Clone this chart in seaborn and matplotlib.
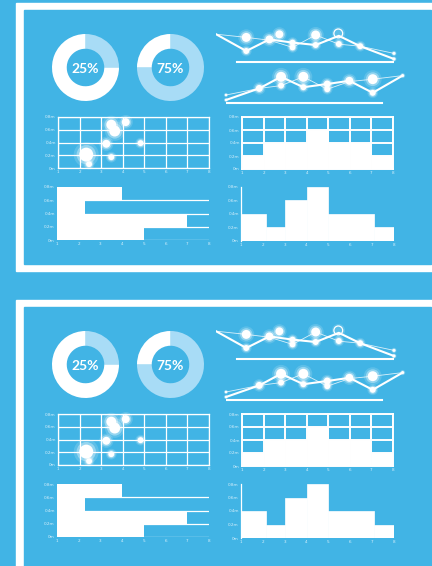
import numpy as np
import pandas as pd
import matplotlib
matplotlib.use("Agg")
import matplotlib.pyplot as plt
from matplotlib.patches import Rectangle
import seaborn as sns

# Datos
donut_pcts = [25, 75]

line_x = [0, 17, 30, 43, 56, 69, 81, 100]
top_main_y = [77, 35, 64, 56, 50, 73, 47, 15]
top_thin_y = [77, 69, 62, 44, 75, 52, 47, 29]
top_glow_x = [17, 56, 43, 69, 100, 17, 30, 43, 56, 81, 100, 35.6]
top_glow_y = [69, 75, 44, 52.5, 29, 35, 64, 56, 50, 47, 15, 76.7]
top_glow_r = [4.5, 4.5, 3, 3, 1.5, 3, 4, 3, 3, 3, 1.5, 4]
top_ring = ([68.7], [79])
top_base = ([12, 100], [7, 7])

bot_x = [0, 18.8, 31.1, 43.7, 57.2, 69.7, 82.9, 99.8]
bot_main_y = [20, 49, 78, 52, 60, 68, 38, 81]
bot_thin_y = [32.5, 49, 56, 78, 47, 66, 72, 81]
bot_glow_x = [18.8, 31.1, 43.7, 57.2, 69.7, 82.9, 0, 31.1, 43.7, 57.2, 82.9, 0, 99.8]
bot_glow_y = [49, 78, 52, 60, 68, 38, 20, 56, 78, 47, 72, 32.5, 81]
bot_glow_r = [3.5, 5, 3, 3.5, 4, 3, 1.2, 3, 5, 3, 5, 1.2, 1.5]
bot_base = ([0, 88], [12, 12])

bub_x = [2.31, 2.44, 3.24, 3.47, 3.47, 3.63, 4.14, 4.83]
bub_y = [0.21, 0.06, 0.38, 0.17, 0.68, 0.58, 0.72, 0.39]
bub_r = [7, 3, 4, 3, 5, 5.5, 4, 3]

grid_edges = [1, 2, 3, 4, 5, 6, 7, 8]
grid_heights = [0.2, 0.4, 0.4, 0.6, 0.4, 0.4, 0.2]

barh_levels = [0.1, 0.3, 0.5, 0.7]
barh_ends = [5, 7, 2.3, 4]

step_edges = [1, 2.13, 3, 4, 5, 7.08, 8]
step_heights = [0.4, 0.2, 0.6, 0.8, 0.4, 0.2]

x_ticks = [1, 2, 3, 4, 5, 6, 7, 8]
y_ticks = [0, 0.2, 0.4, 0.6, 0.8]
y_labels = ["0m", "0.2m", "0.4m", "0.6m", "0.8m"]

BLUE = "#41b4e5"
LIGHT = "#a8dcf6"
TICK = "#d8f0fb"
W, H = 432, 566

fig = plt.figure(figsize=(W / 100, H / 100), dpi=100, facecolor=BLUE)


def px_axes(x0, y0, x1, y1):
    ax = fig.add_axes([x0 / W, 1 - y1 / H, (x1 - x0) / W, (y1 - y0) / H])
    ax.set_facecolor("none")
    return ax


def rect(x0, y0, x1, y1, color):
    fig.patches.append(Rectangle((x0 / W, 1 - y1 / H), (x1 - x0) / W, (y1 - y0) / H,
                                 transform=fig.transFigure, color=color, zorder=-5))


def glow(ax, xs, ys, rs):
    s = [2.07 * r * r for r in rs]
    for k, a in ((3.2, 0.15), (1.9, 0.35), (1.0, 1.0)):
        sns.scatterplot(x=xs, y=ys, s=[k * v for v in s], color="white", alpha=a,
                        linewidth=0, ax=ax, clip_on=False, legend=False)


def ticks(ax):
    ax.set_xlim(1, 8)
    ax.set_ylim(0, 0.8)
    ax.set_xticks(x_ticks)
    ax.set_xticklabels([str(t) for t in x_ticks])
    ax.set_yticks(y_ticks)
    ax.set_yticklabels(y_labels)
    ax.tick_params(length=0, labelsize=3, labelcolor=TICK, pad=1.6)
    ax.set_xlabel("")
    ax.set_ylabel("")


for off in (0, 297):
    # marcos
    rect(16, 3 + off, 432, 271 + off, "white")
    rect(24, 10 + off, 430.5, (264 if off == 0 else 575) + off, BLUE)

    # donas
    for i, (pct, x0) in enumerate(zip(donut_pcts, (52, 137))):
        ax = px_axes(x0, 34 + off, x0 + 67, 101 + off)
        ax.pie([pct, 100 - pct], colors=[LIGHT, "white"], startangle=90, counterclock=False,
               wedgeprops=dict(width=0.44, linewidth=0))
        ax.set_xlim(-1, 1)
        ax.set_ylim(-1, 1)
        ax.text(0, -0.05, f"{pct}%", ha="center", va="center", color="white",
                fontsize=10, fontweight="bold", family="Lato")

    # lineas superiores
    ax = px_axes(216, 25 + off, 394, 65 + off)
    sns.lineplot(x=line_x, y=top_thin_y, color="white", lw=0.6, alpha=0.8, ax=ax)
    sns.lineplot(x=line_x, y=top_main_y, color="white", lw=1.5, ax=ax)
    sns.lineplot(x=top_base[0], y=top_base[1], color="white", lw=1.5, ax=ax)
    glow(ax, top_glow_x, top_glow_y, top_glow_r)
    ax.scatter(top_ring[0], top_ring[1], s=40, facecolor="none", edgecolor="white",
               lw=0.9, clip_on=False)
    ax.scatter(top_ring[0], top_ring[1], s=90, color="white", alpha=0.15, lw=0, clip_on=False)
    ax.set_xlim(0, 100)
    ax.set_ylim(0, 100)
    ax.axis("off")

    # lineas inferiores
    ax = px_axes(226, 68 + off, 403, 108 + off)
    sns.lineplot(x=bot_x, y=bot_thin_y, color="white", lw=0.6, alpha=0.8, ax=ax)
    sns.lineplot(x=bot_x, y=bot_main_y, color="white", lw=1.5, ax=ax)
    sns.lineplot(x=bot_base[0], y=bot_base[1], color="white", lw=1.5, ax=ax)
    glow(ax, bot_glow_x, bot_glow_y, bot_glow_r)
    ax.set_xlim(0, 100)
    ax.set_ylim(0, 100)
    ax.axis("off")

    # burbujas
    ax = px_axes(58, 117 + off, 209, 168 + off)
    ax.set_axisbelow(True)
    ax.grid(True, color="white", lw=0.9)
    for sp in ax.spines.values():
        sp.set_color("white")
        sp.set_linewidth(0.9)
    glow(ax, bub_x, bub_y, bub_r)
    ticks(ax)

    # barras con cuadricula
    ax = px_axes(242, 117 + off, 393, 169 + off)
    ax.set_axisbelow(True)
    ax.grid(True, color="white", lw=1.4)
    for sp in ax.spines.values():
        sp.set_color("white")
        sp.set_linewidth(1.4)
    centers = [(a + b) / 2 for a, b in zip(grid_edges[:-1], grid_edges[1:])]
    sns.histplot(x=centers, weights=grid_heights, bins=grid_edges, color="white",
                 alpha=1, edgecolor="white", linewidth=0.5, ax=ax)
    ticks(ax)

    # barras horizontales
    ax = px_axes(57, 187 + off, 209, 240 + off)
    ax.set_axisbelow(True)
    ax.yaxis.grid(True, color="white", lw=0.9)
    sns.despine(ax=ax, left=True, bottom=True)
    sns.barplot(x=barh_ends, y=barh_levels, orient="y", native_scale=True, width=1,
                color="white", saturation=1, errorbar=None, linewidth=0, ax=ax)
    ticks(ax)
    ax.yaxis.get_gridlines()[-1].set_visible(False)

    # escalones
    ax = px_axes(241, 187 + off, 394, 241 + off)
    sns.despine(ax=ax, bottom=True)
    ax.spines["left"].set_color("white")
    ax.spines["left"].set_linewidth(0.9)
    centers = [(a + b) / 2 for a, b in zip(step_edges[:-1], step_edges[1:])]
    sns.histplot(x=centers, weights=step_heights, bins=step_edges, color="white",
                 alpha=1, edgecolor="white", linewidth=0.5, ax=ax)
    ticks(ax)

fig.savefig("out.png", dpi=100, facecolor=BLUE)
